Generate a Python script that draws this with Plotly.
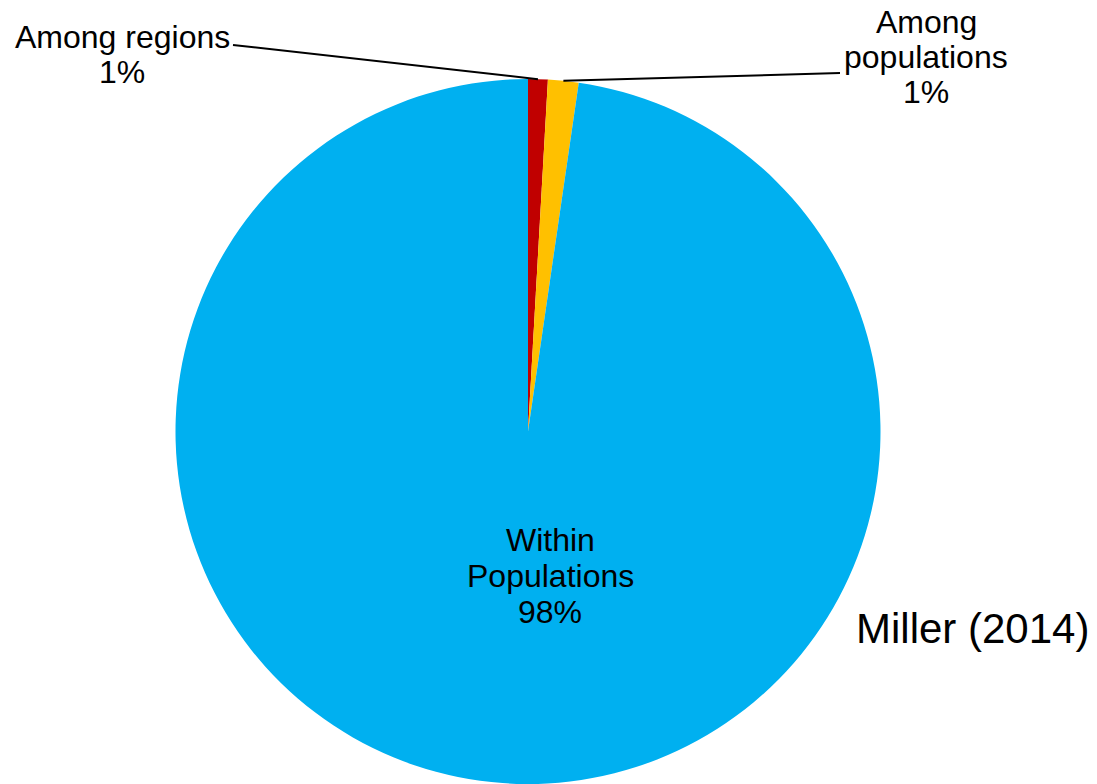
import math
import plotly.graph_objects as go

labels = ["Among regions", "Among populations", "Within Populations"]
label_lines = [["Among regions"], ["Among", "populations"], ["Within", "Populations"]]
values = [0.9, 1.4, 97.7]
colors = ["#C00000", "#FFC000", "#00B0F0"]
source = "Miller (2014)"

W, H = 1097, 784
def px(x): return x / W
def py(y): return 1 - y / H

# pie geometry (pixels)
cx, cy, r = 528, 431.5, 352.5

fig = go.Figure(go.Pie(
    labels=labels, values=values, sort=False, direction="clockwise", rotation=0,
    marker=dict(colors=colors, line=dict(color="white", width=0)),
    textinfo="none", hoverinfo="label+percent", showlegend=False,
    domain=dict(x=[px(cx - r), px(cx + r)], y=[0, (2 * r) / H]),
))

total = sum(values)
pcts = [f"{round(v / total * 100)}%" for v in values]

font = dict(family="Liberation Sans, Arial, sans-serif", color="black")
annots = []
def add_lines(lines, xc, y_first, spacing, size):
    for i, t in enumerate(lines):
        annots.append(dict(text=t, x=px(xc), y=py(y_first + i * spacing), xref="paper", yref="paper",
                           xanchor="center", yanchor="middle", showarrow=False,
                           font=dict(size=size, **font)))

add_lines(label_lines[0] + [pcts[0]], 122, 37, 35, 32)
add_lines(label_lines[1] + [pcts[1]], 926, 22, 35, 32)
add_lines(label_lines[2] + [pcts[2]], 550, 540, 36, 32)

annots.append(dict(text=source, x=px(1091), y=py(628), xref="paper", yref="paper",
                   xanchor="right", yanchor="middle", showarrow=False,
                   font=dict(size=42, **font)))

# leader lines to slice mid-angles
cum = 0
mids = []
for v in values:
    mids.append((cum + v / 2) / total * 2 * math.pi)
    cum += v
def edge(a):
    return cx + r * math.sin(a), cy - r * math.cos(a)

shapes = []
ex, ey = edge(mids[0])
shapes.append(dict(type="line", xref="paper", yref="paper",
                   x0=px(233), y0=py(45), x1=px(ex), y1=py(ey),
                   line=dict(color="black", width=2)))
ex, ey = edge(mids[1])
shapes.append(dict(type="line", xref="paper", yref="paper",
                   x0=px(840), y0=py(73), x1=px(ex), y1=py(ey),
                   line=dict(color="black", width=2)))

fig.update_layout(width=W, height=H, margin=dict(l=0, r=0, t=0, b=0),
                  paper_bgcolor="white", plot_bgcolor="white",
                  annotations=annots, shapes=shapes)
fig.write_html("out.html")
